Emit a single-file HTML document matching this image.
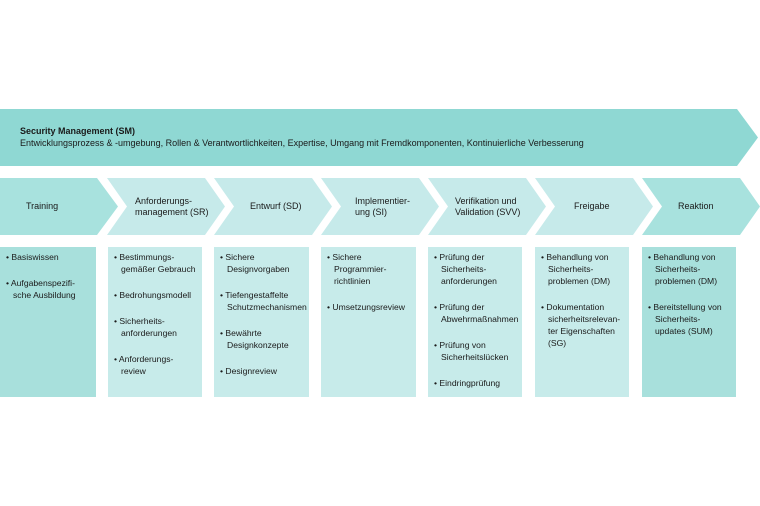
<!DOCTYPE html>
<html><head><meta charset="utf-8"><style>
body{margin:0;width:760px;height:506px;background:#fff;position:relative;overflow:hidden;font-family:"Liberation Sans",sans-serif;color:#1a1a1a}
svg{position:absolute;left:0;top:0}
.t{position:absolute;font-size:9px;line-height:11px}
.c{position:absolute;top:178px;height:57px;display:flex;align-items:center;font-size:9px;line-height:11px}
.b{position:absolute;top:247px;height:150px;font-size:8.6px;line-height:12px;padding:4px 0 0 6px;box-sizing:border-box}
.b div{padding-left:7px;text-indent:-7px;margin-bottom:14px}
</style></head><body>
<svg width="760" height="506">
<polygon points="0,109 737,109 758,137.5 737,166 0,166" fill="#8fd8d3"/>
<polygon points="0,178 97,178 118,206.5 97,235 0,235" fill="#a8e2de"/>
<polygon points="107,178 205,178 225,206.5 205,235 107,235 127,206.5" fill="#c6eaea"/>
<polygon points="214,178 312,178 332,206.5 312,235 214,235 234,206.5" fill="#c6eaea"/>
<polygon points="321,178 419,178 439,206.5 419,235 321,235 341,206.5" fill="#c6eaea"/>
<polygon points="428,178 526,178 546,206.5 526,235 428,235 448,206.5" fill="#c6eaea"/>
<polygon points="535,178 633,178 653,206.5 633,235 535,235 555,206.5" fill="#c6eaea"/>
<polygon points="642,178 740,178 760,206.5 740,235 642,235 662,206.5" fill="#a8e2de"/>
<rect x="0" y="247" width="96" height="150" fill="#a8e0dc"/>
<rect x="108" y="247" width="94" height="150" fill="#c7ebea"/>
<rect x="214" y="247" width="95" height="150" fill="#c7ebea"/>
<rect x="321" y="247" width="95" height="150" fill="#c7ebea"/>
<rect x="428" y="247" width="94" height="150" fill="#c7ebea"/>
<rect x="535" y="247" width="94" height="150" fill="#c7ebea"/>
<rect x="642" y="247" width="94" height="150" fill="#a8e0dc"/>
</svg>
<div class="t" style="left:20px;top:126px;font-weight:bold">Security Management (SM)</div>
<div class="t" style="left:20px;top:138px">Entwicklungsprozess &amp; -umgebung, Rollen &amp; Verantwortlichkeiten, Expertise, Umgang mit Fremdkomponenten, Kontinuierliche Verbesserung</div>
<div class="c" style="left:26px">Training</div>
<div class="c" style="left:135px">Anforderungs-<br>management (SR)</div>
<div class="c" style="left:250px">Entwurf (SD)</div>
<div class="c" style="left:355px">Implementier-<br>ung (SI)</div>
<div class="c" style="left:455px">Verifikation und<br>Validation (SVV)</div>
<div class="c" style="left:574px">Freigabe</div>
<div class="c" style="left:678px">Reaktion</div>
<div class="b" style="left:0;width:96px"><div>• Basiswissen</div><div>• Aufgabenspezifi-<br>sche Ausbildung</div></div>
<div class="b" style="left:108px;width:96px"><div>• Bestimmungs-<br>gemäßer Gebrauch</div><div>• Bedrohungsmodell</div><div>• Sicherheits-<br>anforderungen</div><div>• Anforderungs-<br>review</div></div>
<div class="b" style="left:214px;width:98px"><div>• Sichere<br>Designvorgaben</div><div>• Tiefengestaffelte<br>Schutzmechanismen</div><div>• Bewährte<br>Designkonzepte</div><div>• Designreview</div></div>
<div class="b" style="left:321px;width:98px"><div>• Sichere<br>Programmier-<br>richtlinien</div><div>• Umsetzungsreview</div></div>
<div class="b" style="left:428px;width:98px"><div>• Prüfung der<br>Sicherheits-<br>anforderungen</div><div>• Prüfung der<br>Abwehrmaßnahmen</div><div>• Prüfung von<br>Sicherheitslücken</div><div>• Eindringprüfung</div></div>
<div class="b" style="left:535px;width:96px"><div>• Behandlung von<br>Sicherheits-<br>problemen (DM)</div><div>• Dokumentation<br>sicherheitsrelevan-<br>ter Eigenschaften<br>(SG)</div></div>
<div class="b" style="left:642px;width:96px"><div>• Behandlung von<br>Sicherheits-<br>problemen (DM)</div><div>• Bereitstellung von<br>Sicherheits-<br>updates (SUM)</div></div>
</body></html>
